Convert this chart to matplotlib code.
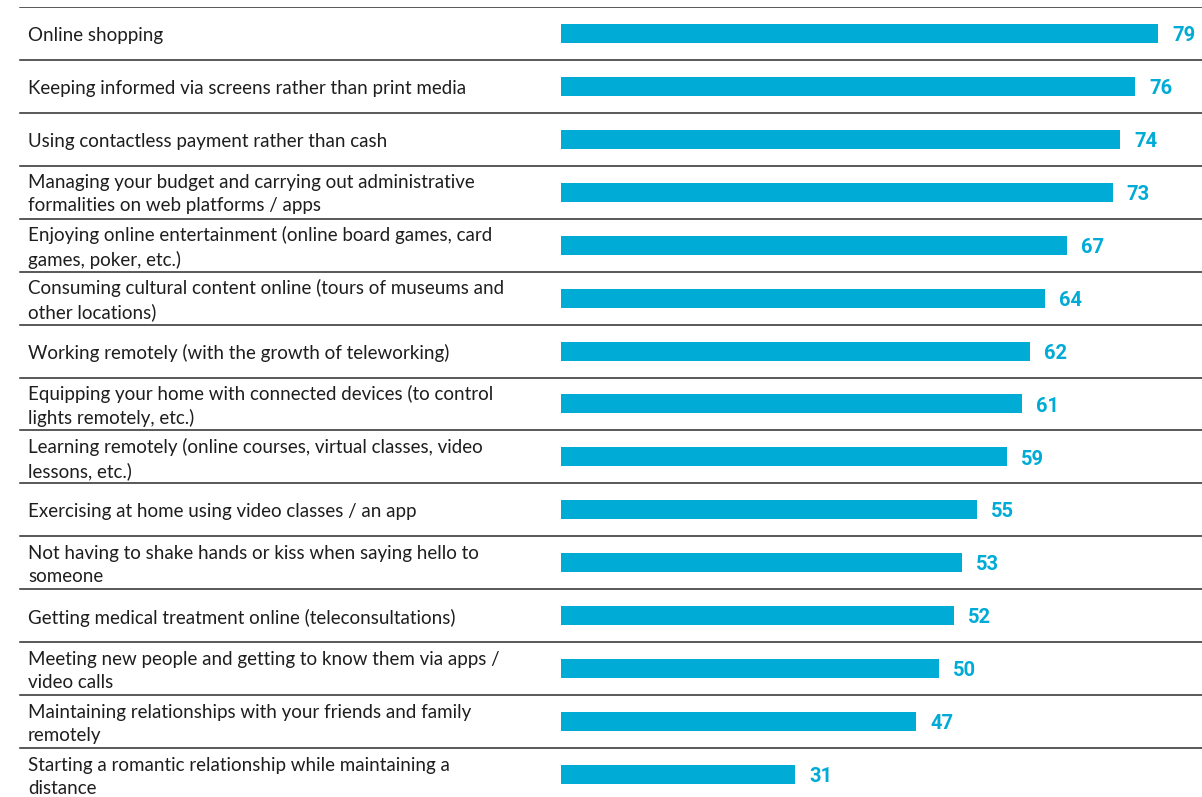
import matplotlib.pyplot as plt

labels = [
    "Online shopping",
    "Keeping informed via screens rather than print media",
    "Using contactless payment rather than cash",
    "Managing your budget and carrying out administrative\nformalities on web platforms / apps",
    "Enjoying online entertainment (online board games, card\ngames, poker, etc.)",
    "Consuming cultural content online (tours of museums and\nother locations)",
    "Working remotely (with the growth of teleworking)",
    "Equipping your home with connected devices (to control\nlights remotely, etc.)",
    "Learning remotely (online courses, virtual classes, video\nlessons, etc.)",
    "Exercising at home using video classes / an app",
    "Not having to shake hands or kiss when saying hello to\nsomeone",
    "Getting medical treatment online (teleconsultations)",
    "Meeting new people and getting to know them via apps /\nvideo calls",
    "Maintaining relationships with your friends and family\nremotely",
    "Starting a romantic relationship while maintaining a\ndistance",
]
values = [79, 76, 74, 73, 67, 64, 62, 61, 59, 55, 53, 52, 50, 47, 31]

blue = "#00ABD6"
W, H = 1202, 797
px_per_unit = 7.557
bar_x0 = 561      # pixel where the value axis starts
top_px = 7        # first separator line
row_px = 52.93

fig = plt.figure(figsize=(W / 100, H / 100), dpi=100)
n = len(values)
ax_top = 1 - top_px / H
ax_h = n * row_px / H
ax = fig.add_axes([0, ax_top - ax_h, 1, ax_h])
xmin = -bar_x0 / px_per_unit
ax.set_xlim(xmin, xmin + W / px_per_unit)
ax.set_ylim(n - 0.5, -0.5)
ax.axis("off")

rows = range(n)
ax.barh(rows, values, height=19 / row_px, color=blue, left=0)

for i in range(n):
    ax.axhline(i - 0.5, xmin=20 / W, xmax=1, color="#2b2b2b", lw=1.1)

for i, (lab, v) in enumerate(zip(labels, values)):
    ax.text(28 / W, i + 0.04, lab, transform=ax.get_yaxis_transform(),
            ha="left", va="center", fontsize=13.5, family="Lato",
            color="#1e1e1e", linespacing=1.42)
    ax.text(v + 14 / px_per_unit, i + 0.04, str(v), ha="left", va="center",
            fontsize=14.5, family="Roboto", fontweight="bold", color=blue)

fig.savefig("out.png", dpi=100)
